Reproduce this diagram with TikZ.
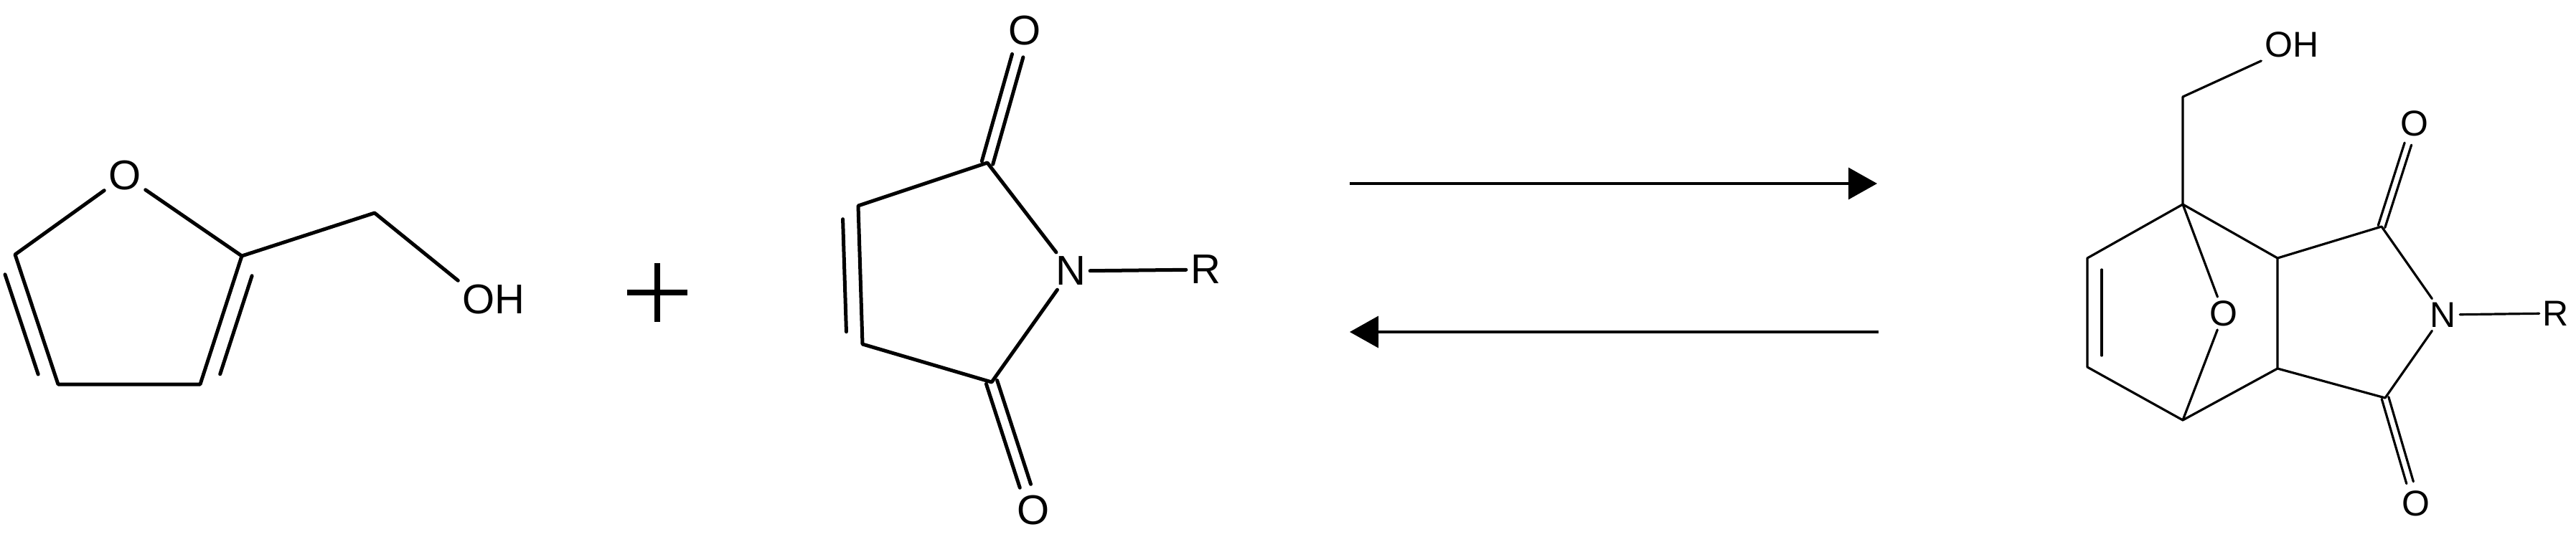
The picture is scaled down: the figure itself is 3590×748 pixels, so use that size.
\documentclass[tikz,border=0pt]{standalone}
\usepackage{fontspec}
\setmainfont{Liberation Sans}
\usetikzlibrary{calc,arrows.meta}
\begin{document}
\begin{tikzpicture}[x=1pt,y=-1pt,
  bondL/.style={line width=5pt,line cap=round,line join=round},
  bondR/.style={line width=3.2pt,line cap=round,line join=round},
  atomL/.style={font=\fontsize{58}{60}\selectfont,inner sep=6pt},
  atomR/.style={font=\fontsize{50}{52}\selectfont,inner sep=5pt},
  rxarrow/.style={line width=3.5pt,-{Triangle[length=40pt,width=44pt]}}]
\useasboundingbox (0,0) rectangle (3590,748);
% ---- furfuryl alcohol
\node[atomL] (fO) at (174,245) {O};
\coordinate (f2) at (337,357);
\coordinate (f3) at (279,536);
\coordinate (f4) at (81,536);
\coordinate (f5) at (21,355);
\coordinate (fc) at (522,297);
\node[atomL] (fOH) at (688,418) {OH};
\draw[bondL] (fO) -- (f2) -- (f3) -- (f4) -- (f5) -- (fO);
\draw[bondL] (f2) -- (fc) -- (fOH.north west);
\draw[bondL,shorten <=22pt,shorten >=22pt] ($(f5)!22pt!-90:(f4)$) -- ($(f4)!22pt!90:(f5)$);
\draw[bondL,shorten <=22pt,shorten >=22pt] ($(f2)!22pt!90:(f3)$) -- ($(f3)!22pt!-90:(f2)$);
% plus
\draw[line width=8pt] (874,408) -- (958,408) (916,367) -- (916,449);
% ---- maleimide
\coordinate (m1) at (1376,227);
\coordinate (m2) at (1196,287);
\coordinate (m3) at (1202,480);
\coordinate (m4) at (1382,533);
\node[atomL] (mN) at (1492,378) {N};
\node[atomL] (mR) at (1680,376) {R};
\node[atomL] (mO1) at (1428,43) {O};
\node[atomL] (mO2) at (1440,712) {O};
\draw[bondL] (mN) -- (m1) -- (m2) -- (m3) -- (m4) -- (mN);
\draw[bondL] (mN) -- (mR);
\draw[bondL,shorten <=18pt,shorten >=18pt] ($(m2)!22pt!-90:(m3)$) -- ($(m3)!22pt!90:(m2)$);
\draw[bondL,shorten >=36pt] ($(m1)!8pt!90:(mO1)$) -- ($(mO1.center)!8pt!-90:(m1)$);
\draw[bondL,shorten >=36pt] ($(m1)!8pt!-90:(mO1)$) -- ($(mO1.center)!8pt!90:(m1)$);
\draw[bondL,shorten >=36pt] ($(m4)!8pt!90:(mO2)$) -- ($(mO2.center)!8pt!-90:(m4)$);
\draw[bondL,shorten >=36pt] ($(m4)!8pt!-90:(mO2)$) -- ($(mO2.center)!8pt!90:(m4)$);
% ---- arrows
\coordinate (a1s) at (1881,256); \coordinate (a1e) at (2616,256);
\coordinate (a2s) at (2618,463); \coordinate (a2e) at (1881,463);
\draw[rxarrow] (a1s) -- (a1e);
\draw[rxarrow] (a2s) -- (a2e);
% ---- product
\coordinate (p1) at (3042,285);
\coordinate (pc) at (3042,135);
\node[atomR] (pOH) at (3194,62) {OH};
\coordinate (p2) at (2909,360);
\coordinate (p3) at (2909,512);
\coordinate (p4) at (3042,586);
\coordinate (p5) at (3174,514);
\coordinate (p6) at (3174,360);
\node[atomR] (pO) at (3099,437) {O};
\coordinate (p7) at (3319,316);
\coordinate (p8) at (3324,555);
\node[atomR] (pN) at (3405,439) {N};
\node[atomR] (pR) at (3562,437) {R};
\node[atomR] (pO1) at (3365,172) {O};
\node[atomR] (pO2) at (3367,702) {O};
\draw[bondR] (p1) -- (pc) -- (pOH.south west);
\draw[bondR] (p1) -- (p2) -- (p3) -- (p4) -- (p5) -- (p6) -- (p1);
\draw[bondR] (p1) -- (pO) -- (p4);
\draw[bondR] (p6) -- (p7) -- (pN) -- (p8) -- (p5);
\draw[bondR] (pN) -- (pR);
\draw[bondR,shorten <=16pt,shorten >=16pt] ($(p2)!20pt!90:(p3)$) -- ($(p3)!20pt!-90:(p2)$);
\draw[bondR,shorten >=30pt] ($(p7)!5pt!90:(pO1)$) -- ($(pO1.center)!5pt!-90:(p7)$);
\draw[bondR,shorten >=30pt] ($(p7)!5pt!-90:(pO1)$) -- ($(pO1.center)!5pt!90:(p7)$);
\draw[bondR,shorten >=30pt] ($(p8)!5pt!90:(pO2)$) -- ($(pO2.center)!5pt!-90:(p8)$);
\draw[bondR,shorten >=30pt] ($(p8)!5pt!-90:(pO2)$) -- ($(pO2.center)!5pt!90:(p8)$);
\end{tikzpicture}
\end{document}
